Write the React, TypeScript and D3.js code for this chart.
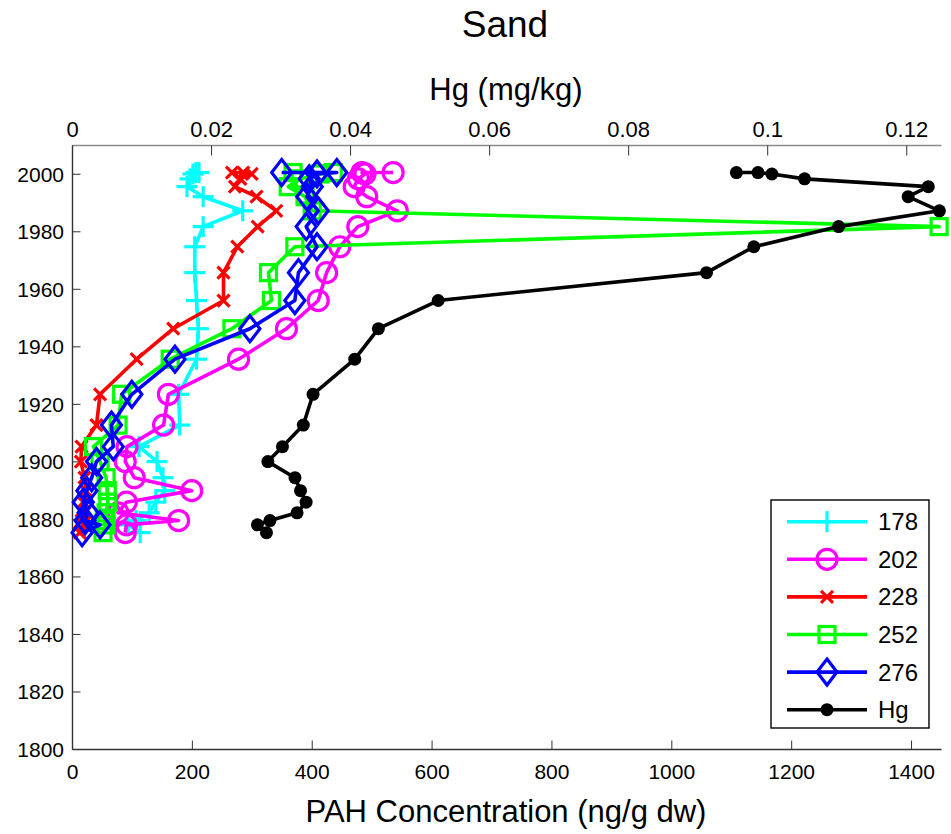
import React from "react";
import * as d3 from "d3";

const years = [2000.6, 2000.6, 2000.1, 1998.4, 1995.7, 1992.2, 1987.3, 1981.8, 1974.8, 1965.8, 1956.1, 1946.3, 1935.7, 1923.5, 1912.8, 1905.3, 1900.1, 1894.5, 1890.0, 1886.0, 1882.3, 1879.6, 1878.1, 1875.4];
const pah178 = [211, 206, 201, 196, 191, 218, 284, 218, 204, 204, 207, 210, 207, 177, 179, 111, 141, 151, 154, 139, 128, 106, 93, 113];
const pah202 = [535, 483, 488, 477, 470, 491, 542, 476, 446, 424, 410, 357, 277, 160, 152, 91, 88, 103, 199, 90, 76, 177, 90, 88];
const pah228 = [266, 285, 299, 280, 271, 307, 340, 309, 275, 252, 252, 168, 107, 46, 40, 15, 14, 20, 22, 18, 20, 15, 18, 12];
const pah252 = [368, 435, 413, 380, 360, 388, 400, 1446, 371, 327, 332, 266, 163, 82, 76, 35, 46, 56, 58, 59, 56, 53, 56, 51];
const pah276 = [349, 441, 408, 395, 400, 391, 410, 390, 408, 377, 371, 296, 171, 99, 65, 68, 40, 32, 24, 18, 26, 21, 46, 16];
const hgValues = [0.0955, 0.0986, 0.1006, 0.1053, 0.1231, 0.1202, 0.1247, 0.1102, 0.098, 0.0912, 0.0526, 0.044, 0.0406, 0.0346, 0.0332, 0.0302, 0.0281, 0.032, 0.0328, 0.0336, 0.0323, 0.0284, 0.0266, 0.0279];

const seriesNames = ["178", "202", "228", "252", "276", "Hg"];
const seriesColors = ["#00ffff", "#ff00ff", "#ff0000", "#00ff00", "#0000ff", "#000000"];
const seriesMarkers = ["plus", "circle", "x", "square", "diamond", "dot"];

const pahTicks = [0, 200, 400, 600, 800, 1000, 1200, 1400];
const hgTicks = [0, 0.02, 0.04, 0.06, 0.08, 0.1, 0.12];
const yearTicks = [1800, 1820, 1840, 1860, 1880, 1900, 1920, 1940, 1960, 1980, 2000];

const FONT = "'Liberation Sans', Arial, Helvetica, sans-serif";
const L = 72.5, R = 941.5, T = 145.5, B = 749.5;
const LW = 3.6;

function Marker({ type, x, y, color }: { type: string; x: number; y: number; color: string }) {
  const sw = 3.2;
  if (type === "plus") {
    const s = 10.5;
    return (
      <g stroke={color} strokeWidth={sw}>
        <line x1={x - s} y1={y} x2={x + s} y2={y} />
        <line x1={x} y1={y - s} x2={x} y2={y + s} />
      </g>
    );
  }
  if (type === "circle") return <circle cx={x} cy={y} r={10} fill="none" stroke={color} strokeWidth={sw} />;
  if (type === "x") {
    const s = 6;
    return (
      <g stroke={color} strokeWidth={sw}>
        <line x1={x - s} y1={y - s} x2={x + s} y2={y + s} />
        <line x1={x - s} y1={y + s} x2={x + s} y2={y - s} />
      </g>
    );
  }
  if (type === "square") return <rect x={x - 8} y={y - 8} width={16} height={16} fill="none" stroke={color} strokeWidth={sw} />;
  if (type === "diamond") {
    const w = 10, h = 13;
    return <path d={`M${x},${y - h}L${x + w},${y}L${x},${y + h}L${x - w},${y}Z`} fill="none" stroke={color} strokeWidth={sw} />;
  }
  return <circle cx={x} cy={y} r={6.5} fill={color} />;
}

export default function App() {
  const x = d3.scaleLinear().domain([0, 1450]).range([L, R]);
  const xHg = d3.scaleLinear().domain([0, 0.125]).range([L, R]);
  const y = d3.scaleLinear().domain([1800, 2010]).range([B, T]);

  const allSeries = [pah178, pah202, pah228, pah252, pah276, hgValues];
  const line = d3.line<[number, number]>().x((d) => d[0]).y((d) => d[1]);

  const pts = allSeries.map((vals, i) =>
    vals.map((v, j) => [i === 5 ? xHg(v) : x(v), y(years[j])] as [number, number])
  );

  const legX = 771, legY = 500, legW = 158, legH = 228, legStep = 37.6;

  return (
    <svg width={951} height={834} style={{ display: "block", position: "absolute", left: 0, top: 0, background: "#fff" }} fontFamily={FONT}>
      <rect width={951} height={834} fill="#fff" />
      <text x={505} y={37} textAnchor="middle" fontSize={37}>Sand</text>
      <text x={506} y={100} textAnchor="middle" fontSize={31}>Hg (mg/kg)</text>
      <text x={506} y={822} textAnchor="middle" fontSize={31}>PAH Concentration (ng/g dw)</text>

      {/* axes */}
      <line x1={L} y1={T} x2={R} y2={T} stroke="#8a8a8a" strokeWidth={1.6} />
      <line x1={L} y1={B} x2={R} y2={B} stroke="#333" strokeWidth={1.4} />
      <line x1={L} y1={T} x2={L} y2={B} stroke="#333" strokeWidth={1.4} />
      {pahTicks.map((t) => (
        <g key={"b" + t}>
          <line x1={x(t)} y1={B} x2={x(t)} y2={B - 9} stroke="#333" strokeWidth={1} />
          <text x={x(t)} y={779} textAnchor="middle" fontSize={21}>{t}</text>
        </g>
      ))}
      {hgTicks.map((t) => (
        <g key={"t" + t}>
          <line x1={xHg(t)} y1={T} x2={xHg(t)} y2={T + 10} stroke="#333" strokeWidth={1} />
          <text x={xHg(t)} y={137} textAnchor="middle" fontSize={22}>{t === 0 ? "0" : String(t)}</text>
        </g>
      ))}
      {yearTicks.map((t) => (
        <g key={"y" + t}>
          <line x1={L} y1={y(t)} x2={L + 8} y2={y(t)} stroke="#333" strokeWidth={1} />
          <text x={64} y={y(t) + 7.5} textAnchor="end" fontSize={21}>{t}</text>
        </g>
      ))}

      {/* series */}
      {pts.map((p, i) => (
        <g key={"s" + i}>
          <path d={line(p) || ""} fill="none" stroke={seriesColors[i]} strokeWidth={LW} strokeLinejoin="round" />
          {p.map((q, j) => (
            <Marker key={j} type={seriesMarkers[i]} x={q[0]} y={q[1]} color={seriesColors[i]} />
          ))}
        </g>
      ))}

      {/* legend */}
      <rect x={legX} y={legY} width={legW} height={legH} fill="#fff" stroke="#000" strokeWidth={1.4} />
      {seriesNames.map((n, i) => {
        const cy = 521.7 + i * legStep;
        return (
          <g key={"l" + n}>
            <line x1={787} y1={cy} x2={867} y2={cy} stroke={seriesColors[i]} strokeWidth={LW} />
            <Marker type={seriesMarkers[i]} x={827} y={cy} color={seriesColors[i]} />
            <text x={878} y={cy + 8.5} fontSize={24}>{n}</text>
          </g>
        );
      })}
    </svg>
  );
}
